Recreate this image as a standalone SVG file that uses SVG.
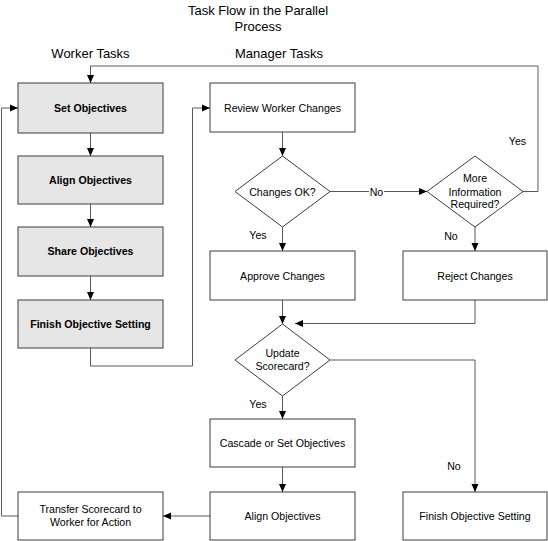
<svg xmlns="http://www.w3.org/2000/svg" width="548" height="541" viewBox="0 0 548 541">
<defs>
<style>
.box{fill:#fff;stroke:#3c3c3c;stroke-width:1}
.wk{fill:#e6e6e6;stroke:#3c3c3c;stroke-width:1}
.t{font-family:"Liberation Sans",Arial,sans-serif;font-size:10.6px;fill:#000;text-anchor:middle}
.b{font-weight:bold}
.h{font-family:"Liberation Sans",Arial,sans-serif;font-size:13px;fill:#000;text-anchor:middle}
.c{fill:none;stroke:#5a5a5a;stroke-width:1}
.lbl{font-family:"Liberation Sans",Arial,sans-serif;font-size:10.6px;fill:#000;text-anchor:middle}
</style>
<marker id="ar" markerUnits="userSpaceOnUse" markerWidth="8" markerHeight="8" viewBox="0 0 8 8" refX="8" refY="4" orient="auto">
<path d="M0,0.5 L8,4 L0,7.5 Z" fill="#000"/>
</marker>
</defs>
<rect width="548" height="541" fill="#fff"/>
<g id="titles">
<text class="h" x="258" y="15">Task Flow in the Parallel</text>
<text class="h" x="258" y="31">Process</text>
<text class="h" x="90.5" y="58">Worker Tasks</text>
<text class="h" x="279" y="58">Manager Tasks</text>
</g>
<g id="connectors">
<path class="c" d="M523,191.5 H538 V66 H90.5 V83" marker-end="url(#ar)"/>
<path class="c" d="M90.5,133 V156" marker-end="url(#ar)"/>
<path class="c" d="M90.5,204 V227" marker-end="url(#ar)"/>
<path class="c" d="M90.5,276 V300" marker-end="url(#ar)"/>
<path class="c" d="M18,516 H1.5 V108 H18" marker-end="url(#ar)"/>
<path class="c" d="M90.5,348 V366 H192.5 V108 H210" marker-end="url(#ar)"/>
<path class="c" d="M282.5,132 V156" marker-end="url(#ar)"/>
<path class="c" d="M330,191.5 H369"/>
<path class="c" d="M384,191.5 H427" marker-end="url(#ar)"/>
<path class="c" d="M282.5,227 V251" marker-end="url(#ar)"/>
<path class="c" d="M475,227 V251" marker-end="url(#ar)"/>
<path class="c" d="M282.5,300 V324" marker-end="url(#ar)"/>
<path class="c" d="M475,300 V323.5 H295" marker-end="url(#ar)"/>
<path class="c" d="M330,360 H475 V492" marker-end="url(#ar)"/>
<path class="c" d="M282.5,396 V419" marker-end="url(#ar)"/>
<path class="c" d="M282.5,467 V492" marker-end="url(#ar)"/>
<path class="c" d="M210,516 H163" marker-end="url(#ar)"/>
<text class="lbl" x="517.5" y="145">Yes</text>
<text class="lbl" x="376.5" y="195.5">No</text>
<text class="lbl" x="258" y="239">Yes</text>
<text class="lbl" x="451" y="240">No</text>
<text class="lbl" x="258" y="408">Yes</text>
<text class="lbl" x="454" y="469.5">No</text>
</g>
<g id="set-objectives">
<rect class="wk" x="18" y="83" width="145" height="50"/>
<text class="t b" x="90.5" y="111.8">Set Objectives</text>
</g>
<g id="align-objectives">
<rect class="wk" x="18" y="156" width="145" height="48"/>
<text class="t b" x="90.5" y="183.8">Align Objectives</text>
</g>
<g id="share-objectives">
<rect class="wk" x="18" y="227" width="145" height="49"/>
<text class="t b" x="90.5" y="255.3">Share Objectives</text>
</g>
<g id="finish-objective-setting-worker">
<rect class="wk" x="18" y="300" width="145" height="48"/>
<text class="t b" x="90.5" y="327.8">Finish Objective Setting</text>
</g>
<g id="transfer-scorecard">
<rect class="box" x="18" y="492" width="145" height="48"/>
<text class="t" x="90.5" y="513">Transfer Scorecard to</text>
<text class="t" x="90.5" y="525.5">Worker for Action</text>
</g>
<g id="review-worker-changes">
<rect class="box" x="210" y="83" width="145" height="49"/>
<text class="t" x="282.5" y="111.5">Review Worker Changes</text>
</g>
<g id="changes-ok">
<polygon class="box" points="282.5,156 330,191.5 282.5,227 235,191.5"/>
<text class="t" x="282.5" y="195.5">Changes OK?</text>
</g>
<g id="more-information-required">
<polygon class="box" points="475,156 523,191.5 475,227 427,191.5"/>
<text class="t" x="475" y="182">More</text>
<text class="t" x="475" y="195.5">Information</text>
<text class="t" x="475" y="208">Required?</text>
</g>
<g id="approve-changes">
<rect class="box" x="210" y="251" width="145" height="49"/>
<text class="t" x="282.5" y="279.5">Approve Changes</text>
</g>
<g id="reject-changes">
<rect class="box" x="403" y="251" width="144" height="49"/>
<text class="t" x="475" y="279.5">Reject Changes</text>
</g>
<g id="update-scorecard">
<polygon class="box" points="282.5,324 330,360 282.5,396 235,360"/>
<text class="t" x="282.5" y="356.5">Update</text>
<text class="t" x="282.5" y="370">Scorecard?</text>
</g>
<g id="cascade-or-set-objectives">
<rect class="box" x="210" y="419" width="145" height="48"/>
<text class="t" x="282.5" y="446.8">Cascade or Set Objectives</text>
</g>
<g id="align-objectives-manager">
<rect class="box" x="210" y="492" width="145" height="48"/>
<text class="t" x="282.5" y="519.8">Align Objectives</text>
</g>
<g id="finish-objective-setting-manager">
<rect class="box" x="403" y="492" width="144" height="48"/>
<text class="t" x="475" y="519.8">Finish Objective Setting</text>
</g>
</svg>
